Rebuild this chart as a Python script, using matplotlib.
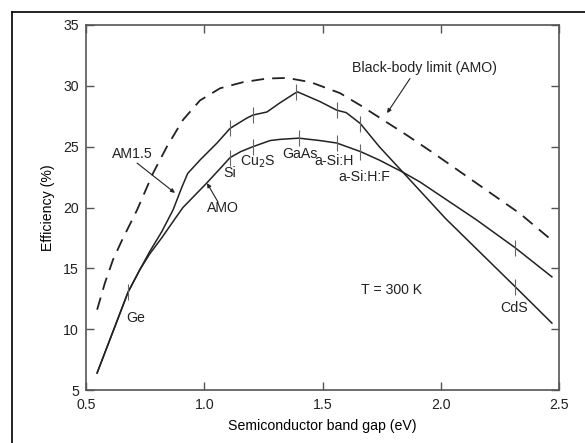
import numpy as np
import matplotlib
matplotlib.use("Agg")
import matplotlib.pyplot as plt
from matplotlib.lines import Line2D

INK = "#222222"
SPINE = "#555555"

plt.rcParams.update({
    "font.family": ["Liberation Sans", "DejaVu Sans"],
    "font.size": 10.2,
    "text.color": INK,
})

# Black-body limit (AMO), dashed
bb_gap = [0.547, 0.58, 0.614, 0.652, 0.716, 0.783, 0.842, 0.91, 0.982, 1.067,
          1.164, 1.265, 1.35, 1.45, 1.574, 1.66, 1.756, 1.86, 1.967, 2.195,
          2.335, 2.47]
bb_eff = [11.6, 13.8, 15.7, 17.3, 19.8, 22.8, 25.0, 27.2, 28.8, 29.8,
          30.3, 30.6, 30.65, 30.3, 29.4, 28.4, 27.2, 25.9, 24.5, 21.4,
          19.5, 17.3]

# AM1.5 spectrum
am15_gap = [0.547, 0.678, 0.728, 0.77, 0.82, 0.868, 0.906, 0.93, 0.982, 1.054,
            1.109, 1.18, 1.206, 1.265, 1.32, 1.384, 1.395, 1.49, 1.56, 1.60,
            1.66, 1.74, 1.84, 2.02, 2.314, 2.47]
am15_eff = [6.4, 13.05, 14.9, 16.4, 18.0, 19.8, 21.7, 22.8, 23.9, 25.3,
            26.5, 27.35, 27.6, 27.85, 28.6, 29.4, 29.5, 28.7, 28.0, 27.8,
            26.9, 25.0, 22.9, 19.1, 13.5, 10.5]

# AMO spectrum
amo_gap = [0.547, 0.678, 0.728, 0.77, 0.82, 0.87, 0.91, 1.01, 1.067, 1.109,
           1.155, 1.206, 1.278, 1.32, 1.40, 1.49, 1.56, 1.66, 1.74, 1.84,
           1.912, 2.15, 2.314, 2.47]
amo_eff = [6.4, 13.05, 14.9, 16.2, 17.5, 18.9, 20.0, 22.0, 23.2, 24.1,
           24.6, 25.0, 25.5, 25.6, 25.7, 25.5, 25.3, 24.6, 23.9, 22.9,
           22.1, 19.0, 16.7, 14.3]

# material band gaps marked on the curves
am15_marks = [0.678, 1.109, 1.206, 1.39, 1.56, 1.66, 2.314]
amo_marks = [1.109, 1.206, 1.40, 1.56, 1.66, 2.314]

# material labels (text, gap, efficiency)
mat_names = ["Ge", "Si", "Cu$_2$S", "GaAs", "a-Si:H", "a-Si:H:F", "CdS"]
mat_x = [0.711, 1.109, 1.227, 1.403, 1.549, 1.675, 2.31]
mat_y = [10.9, 22.8, 23.75, 24.43, 23.8, 22.5, 11.7]

fig = plt.figure(figsize=(5.85, 4.43), dpi=100)
ax = fig.add_axes([86 / 585, 1 - 390 / 443, 473 / 585, 365 / 443])

# outer box, only its left and top edges are inside the picture
fig.add_artist(Line2D([12 / 585, 12 / 585], [0, 1 - 12 / 443],
                      transform=fig.transFigure, color="black", lw=1.2))
fig.add_artist(Line2D([12 / 585, 1], [1 - 12 / 443, 1 - 12 / 443],
                      transform=fig.transFigure, color="black", lw=1.2))

ax.plot(bb_gap, bb_eff, color=INK, lw=1.3, linestyle=(0, (7, 4.5)))
ax.plot(am15_gap, am15_eff, color=INK, lw=1.1)
ax.plot(amo_gap, amo_eff, color=INK, lw=1.1)

ax.plot(am15_marks, np.interp(am15_marks, am15_gap, am15_eff), ls="none",
        marker="|", ms=11, mew=0.8, color="#666666")
ax.plot(amo_marks, np.interp(amo_marks, amo_gap, amo_eff), ls="none",
        marker="|", ms=11, mew=0.8, color="#666666")

for name, x, y in zip(mat_names, mat_x, mat_y):
    ax.text(x, y, name, ha="center", va="center")

arrow = dict(arrowstyle="-|>", lw=0.8, color=INK, mutation_scale=6,
             shrinkA=0, shrinkB=0)
ax.text(1.933, 31.46, "Black-body limit (AMO)", ha="center", va="center")
ax.annotate("", xy=(1.773, 27.76), xytext=(1.87, 30.6), arrowprops=arrow)
ax.text(0.697, 24.4, "AM1.5", ha="center", va="center")
ax.annotate("", xy=(0.876, 21.2), xytext=(0.716, 23.65), arrowprops=arrow)
ax.text(1.08, 19.95, "AMO", ha="center", va="center")
ax.annotate("", xy=(1.012, 22.0), xytext=(1.058, 20.45), arrowprops=arrow)
ax.text(1.79, 13.2, "T = 300 K", ha="center", va="center")

ax.set_xlim(0.5, 2.5)
ax.set_ylim(5, 35)
ax.set_xticks([0.5, 1.0, 1.5, 2.0, 2.5])
ax.set_xticklabels(["0.5", "1.0", "1.5", "2.0", "2.5"])
ax.set_yticks([5, 10, 15, 20, 25, 30, 35])
ax.tick_params(direction="in", length=5.5, width=1, color=SPINE,
               top=True, right=True, labelsize=10.2, labelcolor=INK)
ax.tick_params(axis="x", pad=6)
ax.tick_params(axis="y", pad=5)
for sp in ax.spines.values():
    sp.set_color(SPINE)
    sp.set_linewidth(1.2)

ax.set_xlabel("Semiconductor band gap (eV)", labelpad=5)
ax.set_ylabel("Efficiency (%)", labelpad=6)

fig.savefig("out.png", dpi=100)
